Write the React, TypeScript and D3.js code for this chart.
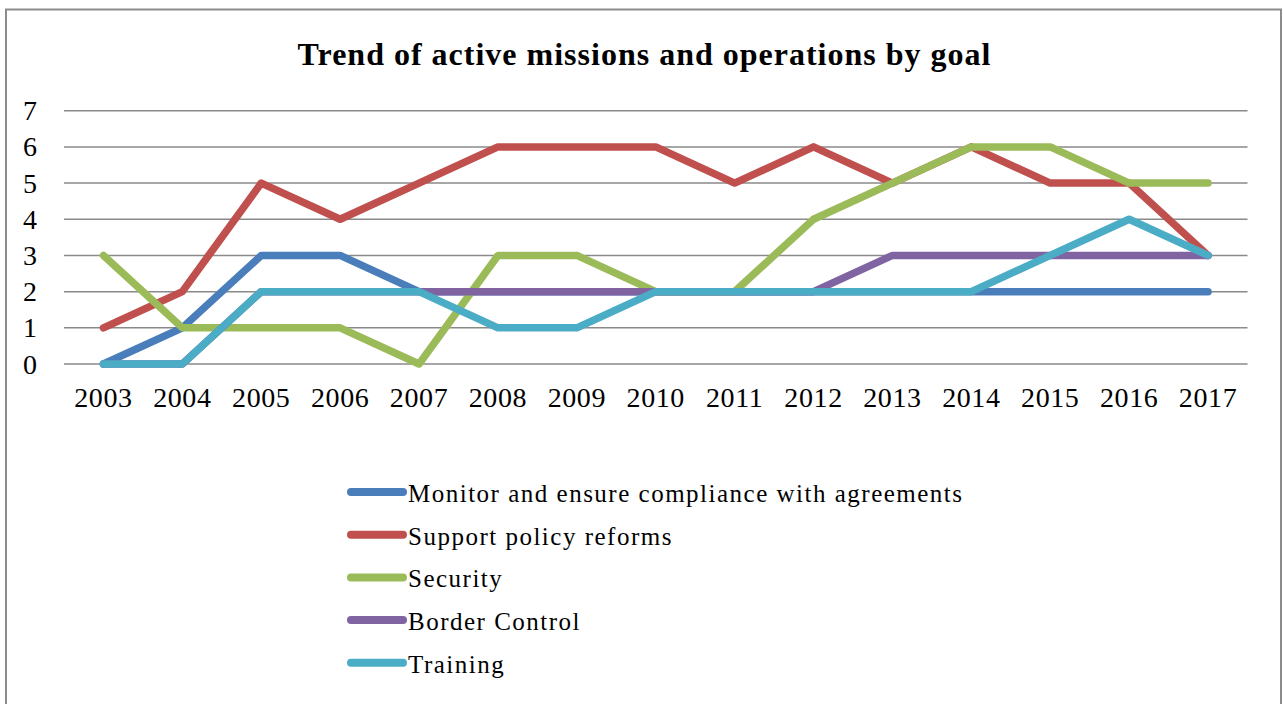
import React, { useEffect, useRef } from 'react';
import * as d3 from 'd3';

const years = ['2003', '2004', '2005', '2006', '2007', '2008', '2009', '2010', '2011', '2012', '2013', '2014', '2015', '2016', '2017'];
const yTicks = [0, 1, 2, 3, 4, 5, 6, 7];

const monitor = [0, 1, 3, 3, 2, 2, 2, 2, 2, 2, 2, 2, 2, 2, 2];
const policy = [1, 2, 5, 4, 5, 6, 6, 6, 5, 6, 5, 6, 5, 5, 3];
const security = [3, 1, 1, 1, 0, 3, 3, 2, 2, 4, 5, 6, 6, 5, 5];
const border = [0, 0, 2, 2, 2, 2, 2, 2, 2, 2, 3, 3, 3, 3, 3];
const training = [0, 0, 2, 2, 2, 1, 1, 2, 2, 2, 2, 2, 3, 4, 3];

const seriesNames = [
    'Monitor and ensure compliance with agreements',
    'Support policy reforms',
    'Security',
    'Border Control',
    'Training',
];
const seriesValues = [monitor, policy, security, border, training];
const seriesColors = ['#4a7ebb', '#c0504d', '#9bbb59', '#8064a2', '#4bacc6'];

const FONT = '"Liberation Serif", "DejaVu Serif", serif';

const App: React.FC = () => {
    const svgRef = useRef<SVGSVGElement>(null);

    useEffect(() => {
        if (!svgRef.current) return;
        const width = 1283;
        const height = 704;
        const svg = d3.select(svgRef.current);
        svg.selectAll('*').remove();

        svg.append('rect')
            .attr('width', width)
            .attr('height', height)
            .attr('fill', '#ffffff');

        // outer chart border
        svg.append('rect')
            .attr('x', 6)
            .attr('y', 9.5)
            .attr('width', 1275)
            .attr('height', 720)
            .attr('fill', 'none')
            .attr('stroke', '#8c8c8c')
            .attr('stroke-width', 2);

        const xScale = d3.scaleBand().domain(years).range([64, 1247.5]);
        const yScale = d3.scaleLinear().domain([0, 7]).range([364, 110.7]);
        const xc = (i: number) => (xScale(years[i]) as number) + xScale.bandwidth() / 2;

        // gridlines
        svg.append('g')
            .selectAll('line')
            .data(yTicks)
            .enter()
            .append('line')
            .attr('x1', 64)
            .attr('x2', 1247.5)
            .attr('y1', d => yScale(d))
            .attr('y2', d => yScale(d))
            .attr('stroke', '#8a8a8a')
            .attr('stroke-width', 1.5);

        // y labels
        svg.append('g')
            .selectAll('text')
            .data(yTicks)
            .enter()
            .append('text')
            .attr('x', 37)
            .attr('y', d => yScale(d) + 9.5)
            .attr('text-anchor', 'end')
            .style('font-family', FONT)
            .style('font-size', '28px')
            .attr('fill', '#000')
            .text(d => String(d));

        // x labels
        svg.append('g')
            .selectAll('text')
            .data(years)
            .enter()
            .append('text')
            .attr('x', (d, i) => xc(i))
            .attr('y', 407)
            .attr('text-anchor', 'middle')
            .style('font-family', FONT)
            .style('font-size', '28px')
            .style('letter-spacing', '0.6px')
            .attr('fill', '#000')
            .text(d => d);

        // lines
        const line = d3.line<number>()
            .x((d, i) => xc(i))
            .y(d => yScale(d));

        svg.append('g')
            .selectAll('path')
            .data(seriesValues)
            .enter()
            .append('path')
            .attr('d', d => line(d))
            .attr('fill', 'none')
            .attr('stroke', (d, i) => seriesColors[i])
            .attr('stroke-width', 7.5)
            .attr('stroke-linecap', 'round')
            .attr('stroke-linejoin', 'round');

        // title
        svg.append('text')
            .attr('x', 644.5)
            .attr('y', 65)
            .attr('text-anchor', 'middle')
            .style('font-family', FONT)
            .style('font-size', '32px')
            .style('font-weight', 'bold')
            .style('letter-spacing', '1px')
            .attr('fill', '#000')
            .text('Trend of active missions and operations by goal');

        // legend
        const legend = svg.append('g');
        const rows = legend.selectAll('g')
            .data(seriesNames)
            .enter()
            .append('g')
            .attr('transform', (d, i) => `translate(0,${492 + i * 42.7})`);

        rows.append('line')
            .attr('x1', 351)
            .attr('x2', 403)
            .attr('y1', 0)
            .attr('y2', 0)
            .attr('stroke', (d, i) => seriesColors[i])
            .attr('stroke-width', 8)
            .attr('stroke-linecap', 'round');

        rows.append('text')
            .attr('x', 408)
            .attr('y', 10)
            .style('font-family', FONT)
            .style('font-size', '25px')
            .style('letter-spacing', '1.5px')
            .attr('fill', '#000')
            .text(d => d);
    }, []);

    return (
        <div style={{ position: 'fixed', left: 0, top: 0 }}>
            <svg ref={svgRef} width={1283} height={704} style={{ display: 'block' }} />
        </div>
    );
};

export default App;
